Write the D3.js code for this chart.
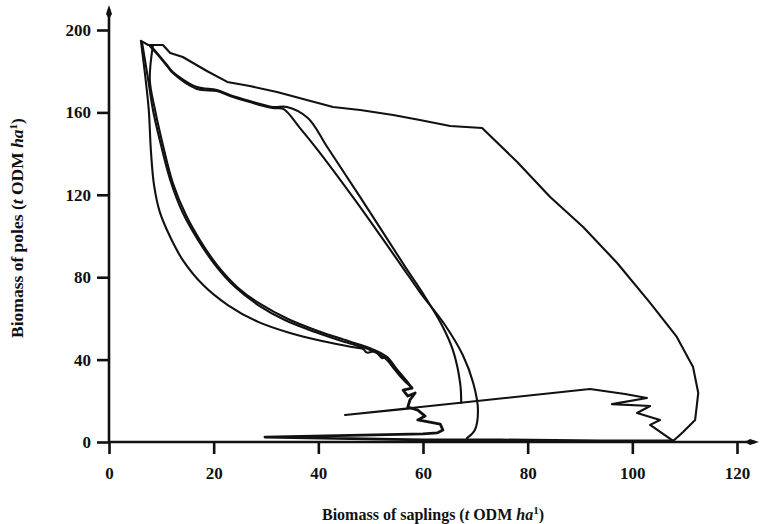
<!DOCTYPE html>
<html>
<head>
<meta charset="utf-8">
<script src="https://cdn.jsdelivr.net/npm/d3@7"></script>
<style>
  body { margin: 0; background: #fff; }
  svg text { font-family: "Liberation Serif", "Times New Roman", serif; fill: #111; }
</style>
</head>
<body>
<svg id="chart" width="761" height="524"></svg>
<script>
// tick values
const xTicks = [0, 20, 40, 60, 80, 100, 120];
const yTicks = [0, 40, 80, 120, 160, 200];

// trajectories: [saplings, poles] in t ODM/ha
const outerCycle = [
  [6.1,194.7],[7.5,192.7],[10.3,192.7],[11.7,188.8],[14.1,186.9],[18.7,180.1],[22.6,174.8],
  [26.9,172.8],[32.1,169.9],[37.8,166.0],[42.8,162.6],[48.0,161.2],[54.3,158.7],[59.4,156.3],
  [65.2,153.4],[71.3,152.4],[78.0,135.9],[84.3,118.9],[90.6,104.4],[97.1,86.9],[103.4,67.5],
  [108.5,51.0],[111.6,36.4],[112.6,23.8],[112.0,10.7],[109.7,4.9],[107.8,0.5],
  [103.4,8.3],[105.3,10.7],[100.9,14.1],[103.4,17.5],[96.1,18.4],[102.8,21.4],[98.6,23.3],
  [91.9,25.7],[45.1,13.1],[58.5,16.5]
];
const midCycleA = [
  [7.8,192.7],[9.2,188.8],[11.1,183.0],[12.2,179.6],[16.8,172.3],[20.6,170.9],[23.1,168.4],
  [26.9,165.5],[31.3,162.6],[34.0,162.6],[38.0,157.3],[41.7,143.2],[48.0,118.9],[56.6,85.0],
  [60.4,70.4],[63.6,56.8],[65.7,44.7],[67.1,28.6],[67.3,18.9]
];
const midCycleB = [
  [7.8,192.2],[9.2,188.3],[11.1,182.5],[12.2,179.1],[16.8,171.4],[20.6,170.4],[23.1,168.0],
  [26.9,165.0],[31.3,162.1],[33.3,161.7],[36.5,152.4],[39.9,141.7],[47.0,117.5],[55.8,85.9],
  [59.4,72.8],[64.2,56.8],[67.6,42.2],[69.6,28.6],[70.5,15.5],[69.9,5.8],[68.4,1.9]
];
const leftCycle1 = [
  [6.1,194.7],[6.9,178.2],[7.6,161.2],[8.0,141.7],[8.6,124.8],[9.7,111.7],[11.7,99.5],
  [14.1,88.3],[18.0,76.2],[22.7,66.5],[28.5,58.3],[34.6,52.9],[40.7,49.0],[46.4,46.1],
  [48.5,45.2],[49.3,43.4],[50.9,44.0],[52.2,40.7],[53.0,41.3],[54.1,36.9],[55.6,32.0],
  [56.9,28.6],[57.9,26.2]
];
const leftCycle2 = [
  [6.3,194.2],[7.5,175.7],[8.4,161.2],[9.7,146.6],[11.7,127.2],[14.1,111.2],[17.0,98.1],
  [20.3,85.9],[24.1,75.2],[28.5,66.5],[33.6,59.2],[39.4,53.4],[45.1,48.5],[49.9,44.7],
  [52.7,40.8],[54.7,35.0],[56.6,30.1],[57.9,26.2]
];
const leftCycle3 = [
  [8.4,192.7],[7.8,175.7],[8.8,161.2],[10.3,144.2],[12.2,125.7],[14.7,110.2],[17.6,97.1],
  [20.8,85.4],[24.7,74.8],[28.9,67.0],[34.2,59.7],[39.9,53.9],[45.7,49.0],[50.3,45.1],
  [53.1,41.3],[55.0,35.4],[56.9,29.6],[57.9,26.2]
];
const bottomTail = [
  [57.9,26.2],[56.2,25.2],[57.1,22.3],[58.5,23.8],[57.5,20.4],[57.1,17.0],[59.0,15.5],
  [60.4,12.6],[59.0,10.7],[63.3,8.7],[63.8,5.8],[62.7,4.4],[60.0,3.9],[29.8,2.4],
  [60.0,1.0],[74.7,1.0],[93.8,0.5],[107.8,0.5]
];

const svg = d3.select("#chart");

const x = d3.scaleLinear().domain([0, 120]).range([109, 737]);
const y = d3.scaleLinear().domain([0, 200]).range([442, 30]);

// axes
const gx = svg.append("g")
  .attr("transform", `translate(0,${y(0)})`)
  .call(d3.axisBottom(x).tickValues(xTicks).tickSize(12).tickPadding(13));
const gy = svg.append("g")
  .attr("transform", `translate(${x(0)},0)`)
  .call(d3.axisLeft(y).tickValues(yTicks).tickSize(12).tickPadding(6));

[gx, gy].forEach(g => {
  g.select(".domain").remove();
  g.selectAll(".tick line").attr("stroke", "#111").attr("stroke-width", 2.6);
  g.selectAll(".tick text")
    .style("font-family", "'Liberation Serif', serif")
    .style("font-size", "17px")
    .style("font-weight", "bold")
    .attr("fill", "#111");
});

// axis lines with arrowheads
const axisTop = y.range()[1] - 25;
const axisRight = x.range()[1] + 22;
svg.append("line")
  .attr("x1", x(0)).attr("x2", x(0))
  .attr("y1", y(0)).attr("y2", axisTop + 4)
  .attr("stroke", "#111").attr("stroke-width", 2.6);
svg.append("line")
  .attr("x1", x(0)).attr("x2", axisRight - 4)
  .attr("y1", y(0)).attr("y2", y(0))
  .attr("stroke", "#111").attr("stroke-width", 2.6);
svg.append("path")
  .attr("d", `M${x(0)},${axisTop} L${x(0) + 3},${axisTop + 9} L${x(0)},${axisTop + 14} L${x(0) - 3},${axisTop + 9} Z`)
  .attr("fill", "#111");
svg.append("path")
  .attr("d", `M${axisRight},${y(0)} L${axisRight - 9},${y(0) - 3} L${axisRight - 14},${y(0)} L${axisRight - 9},${y(0) + 3} Z`)
  .attr("fill", "#111");

// trajectories
const straight = d3.line().x(d => x(d[0])).y(d => y(d[1]));
const smooth = d3.line().x(d => x(d[0])).y(d => y(d[1])).curve(d3.curveCatmullRom.alpha(0.5));

const plot = svg.append("g").attr("fill", "none").attr("stroke", "#111")
  .attr("stroke-linejoin", "round").attr("stroke-linecap", "round");

plot.append("path").attr("d", straight(outerCycle)).attr("stroke-width", 2.1);
plot.append("path").attr("d", smooth(midCycleA)).attr("stroke-width", 2.1);
plot.append("path").attr("d", smooth(midCycleB)).attr("stroke-width", 2.1);
plot.append("path").attr("d", smooth(leftCycle1)).attr("stroke-width", 2.1);
plot.append("path").attr("d", smooth(leftCycle2)).attr("stroke-width", 2.1);
plot.append("path").attr("d", smooth(leftCycle3)).attr("stroke-width", 2.1);
plot.append("path").attr("d", straight(bottomTail)).attr("stroke-width", 2.8);

// axis titles
function addTitle(text, label, size) {
  text.style("font-size", size + "px").style("font-weight", "bold");
  text.append("tspan").text(label + " (");
  text.append("tspan").style("font-style", "italic").text("t");
  text.append("tspan").text(" ODM ");
  text.append("tspan").style("font-style", "italic").text("ha");
  text.append("tspan").attr("dy", -6).style("font-size", "11px").text("1");
  text.append("tspan").attr("dy", 6).text(")");
}

addTitle(svg.append("text")
  .attr("x", (x.range()[0] + x.range()[1]) / 2 + 10)
  .attr("y", 520)
  .attr("text-anchor", "middle"), "Biomass of saplings", 16);

addTitle(svg.append("text")
  .attr("transform", `translate(23,${(y.range()[0] + y.range()[1]) / 2 - 8}) rotate(-90)`)
  .attr("text-anchor", "middle"), "Biomass of poles", 17.5);
</script>
</body>
</html>
